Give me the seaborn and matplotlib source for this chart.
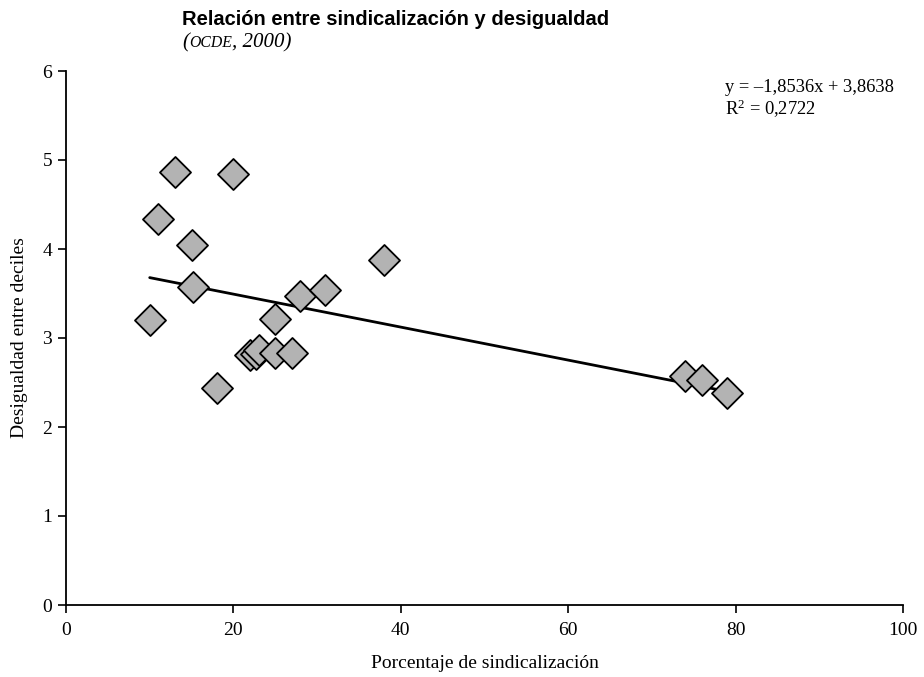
import matplotlib
matplotlib.use("Agg")
import matplotlib.pyplot as plt
import seaborn as sns
import numpy as np
import pandas as pd

# Data
sindicalizacion = [10, 11, 13, 15, 15.2, 18, 20, 22, 22.7, 23, 25, 25, 27, 28, 31, 38, 74, 76, 79]
desigualdad = [3.20, 4.34, 4.86, 4.04, 3.57, 2.44, 4.84, 2.81, 2.82, 2.87, 3.21, 2.83, 2.83, 3.47, 3.54, 3.88, 2.57, 2.53, 2.38]
slope = -1.8536      # per unit fraction (x / 100)
intercept = 3.8638
r2 = 0.2722
x_ticks = [0, 20, 40, 60, 80, 100]
y_ticks = [0, 1, 2, 3, 4, 5, 6]

df = pd.DataFrame({"x": sindicalizacion, "y": desigualdad})

sns.set_theme(style="ticks")
plt.rcParams["font.family"] = ["Liberation Serif", "DejaVu Serif"]
plt.rcParams["text.color"] = "black"
plt.rcParams["axes.labelcolor"] = "black"
plt.rcParams["mathtext.fontset"] = "custom"
plt.rcParams["mathtext.rm"] = "Liberation Serif"
plt.rcParams["mathtext.it"] = "Liberation Serif:italic"

W, H = 924, 677
fig = plt.figure(figsize=(W / 100, H / 100), dpi=100)
ax = fig.add_axes([66 / W, 1 - 605 / H, (903 - 66) / W, (605 - 71) / H])

# trend line
xs = np.array([min(sindicalizacion), max(sindicalizacion)])
line_df = pd.DataFrame({"x": xs, "y": slope * xs / 100 + intercept})
sns.lineplot(data=line_df, x="x", y="y", ax=ax, color="black", linewidth=2, zorder=2)

sns.scatterplot(data=df, x="x", y="y", ax=ax, marker="D", s=250,
                color="#b3b3b3", edgecolor="black", linewidth=1.3, zorder=3)

ax.set_xlim(0, 100)
ax.set_ylim(0, 6)
ax.set_xticks(x_ticks)
ax.set_yticks(y_ticks)
ax.tick_params(axis="both", direction="out", length=6, width=1.2, colors="black",
               labelsize=14, pad=4)
ax.tick_params(axis="x", pad=6)
for s in ["top", "right"]:
    ax.spines[s].set_visible(False)
for s in ["left", "bottom"]:
    ax.spines[s].set_linewidth(1.3)
    ax.spines[s].set_color("black")

ax.set_xlabel("Porcentaje de sindicalización", fontsize=14, labelpad=12, color="black")
ax.set_ylabel("Desigualdad entre deciles", fontsize=14, labelpad=10, color="black")

fig.text(725 / W, 1 - 92 / H, "y = \u20131,8536x + 3,8638", fontsize=13.3,
         ha="left", va="baseline")
fig.text(725 / W, 1 - 115 / H, r"R$^\mathrm{2}$ = 0,2722", fontsize=13.3,
         ha="left", va="baseline")

fig.text(182 / W, 1 - 25 / H, "Relación entre sindicalización y desigualdad",
         fontsize=14.5, fontweight="bold", family=["Liberation Sans", "DejaVu Sans"],
         ha="left", va="baseline", color="black")
sub_y = 1 - 47 / H
t1 = fig.text(182 / W, sub_y, "(", fontsize=15, style="italic", ha="left", va="baseline")
t2 = fig.text(0, sub_y, "OCDE", fontsize=11.3, style="italic", ha="left", va="baseline")
t3 = fig.text(0, sub_y, ", 2000)", fontsize=15, style="italic", ha="left", va="baseline")
fig.canvas.draw()
r = fig.canvas.get_renderer()
inv = fig.transFigure.inverted()
b1 = t1.get_window_extent(r)
t2.set_position((inv.transform((b1.x1, 0))[0], sub_y))
b2 = t2.get_window_extent(r)
t3.set_position((inv.transform((b2.x1, 0))[0], sub_y))

fig.savefig("out.png", dpi=100)
